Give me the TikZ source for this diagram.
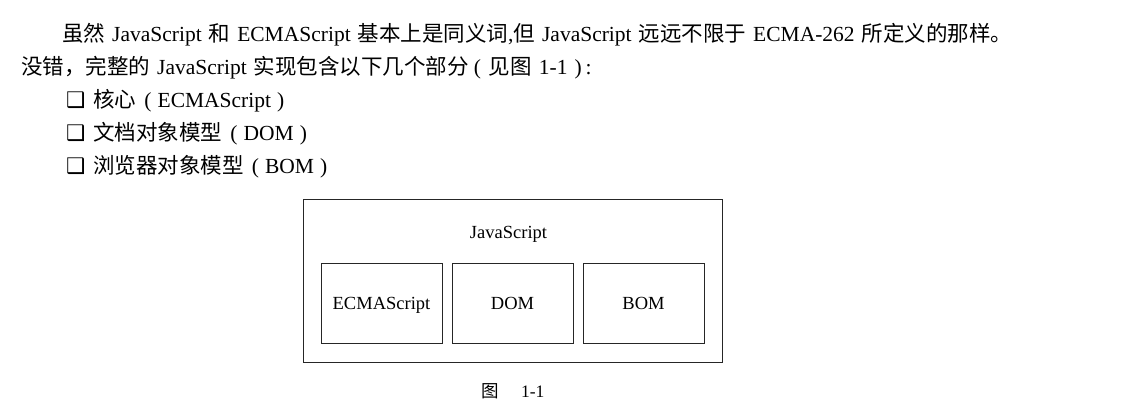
\documentclass[tikz,border=0pt]{standalone}
\usepackage{fontspec}
\setmainfont{Liberation Serif}
\newfontfamily\cjk{Noto Sans CJK SC}
\newfontfamily\symf{DejaVu Sans}
\newcommand\zh[1]{{\cjk #1}}
\newcommand\gp{\hspace{7pt}}
\newcommand\bx{{\symf ❑}}
\begin{document}
\begin{tikzpicture}[x=1pt,y=-1pt,
  txt/.style={anchor=base west,inner sep=0pt,font=\fontsize{21.5pt}{26pt}\selectfont},
  outerbox/.style={draw=black!85,line width=0.9pt,minimum width=419pt,minimum height=163pt,inner sep=0pt},
  partbox/.style={draw=black!85,line width=0.9pt,minimum width=121pt,minimum height=80pt,inner sep=0pt,text height=12.5pt,text depth=0pt,font=\fontsize{18.5pt}{22pt}\selectfont},
  lbl/.style={inner sep=0pt,text height=12.5pt,text depth=0pt,font=\fontsize{18.5pt}{22pt}\selectfont},
  captxt/.style={inner sep=0pt,font=\fontsize{17.5pt}{21pt}\selectfont}]
\useasboundingbox (0,0) rectangle (1122,408);
\fill[white] (0,0) rectangle (1122,408);
\node[txt] (l1) at (62,41) {\zh{虽然}\gp JavaScript\gp\zh{和}\gp ECMAScript\gp\zh{基本上是同义词},\zh{但}\gp JavaScript\gp\zh{远远不限于}\gp ECMA-262\gp\zh{所定义的那样。}};
\node[txt] (l2) at (21,74) {\zh{没错，完整的}\gp JavaScript\gp\zh{实现包含以下几个部分}\hspace{5pt}(\hspace{8pt}\zh{见图}\gp 1-1\hspace{7pt})\hspace{4pt}:};
\node[txt] (l3) at (66,107) {\bx\hspace{8pt}\zh{核心}\hspace{8pt}(\hspace{6pt}ECMAScript\hspace{6pt})};
\node[txt] (l4) at (66,140) {\bx\hspace{8pt}\zh{文档对象模型}\hspace{8pt}(\hspace{6pt}DOM\hspace{6pt})};
\node[txt] (l5) at (66,173) {\bx\hspace{8pt}\zh{浏览器对象模型}\hspace{8pt}(\hspace{6pt}BOM\hspace{6pt})};
\node[outerbox] (js) at (512.5,280.5) {};
\node[lbl] (jsl) at (508.5,232) {JavaScript};
\node[partbox] (ecma) at (381.5,303) {ECMAScript};
\node[partbox] (dom) at (512.5,303) {DOM};
\node[partbox] (bom) at (643.5,303) {BOM};
\node[captxt] (caption) at (513,391) {\zh{图}\hspace{22pt}1-1};
\end{tikzpicture}
\end{document}
